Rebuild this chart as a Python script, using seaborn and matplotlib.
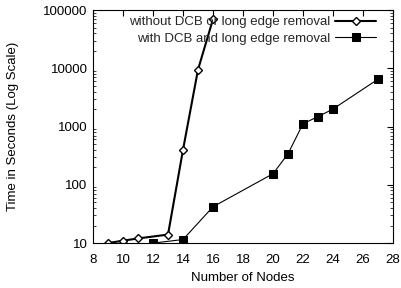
import matplotlib
matplotlib.use("Agg")
import matplotlib.pyplot as plt
import seaborn as sns
import pandas as pd
from matplotlib.ticker import LogLocator, NullFormatter, FixedLocator

sns.set_theme(style="white")
plt.rcParams['font.family'] = ['Liberation Sans', 'DejaVu Sans']

nodes_without = [9, 10, 11, 13, 14, 15, 16]
time_without = [10, 11, 12, 14, 400, 9500, 70000]
nodes_with = [12, 14, 16, 20, 21, 22, 23, 24, 27]
time_with = [10, 11.5, 42, 155, 340, 1120, 1480, 2000, 6500]
label_without = "without DCB or long edge removal"
label_with = "with DCB and long edge removal"
x_ticks = [8, 10, 12, 14, 16, 18, 20, 22, 24, 26, 28]
y_ticks = [10, 100, 1000, 10000, 100000]

df1 = pd.DataFrame({"x": nodes_without, "y": time_without})
df2 = pd.DataFrame({"x": nodes_with, "y": time_with})

FS = 9.5
fig = plt.figure(figsize=(4.01, 2.88), dpi=100)
ax = fig.add_axes([0.232, 0.156, 0.748, 0.809])

sns.lineplot(data=df1, x="x", y="y", ax=ax, color="black", lw=1.5,
             marker="D", markersize=4.2, markerfacecolor="white",
             markeredgecolor="black", markeredgewidth=1.0, label=label_without)
sns.lineplot(data=df2, x="x", y="y", ax=ax, color="black", lw=0.8,
             marker="s", markersize=5.5, markerfacecolor="black",
             markeredgecolor="black", label=label_with)

ax.set_yscale("log")
ax.set_xlim(8, 28)
ax.set_ylim(10, 100000)
ax.xaxis.set_major_locator(FixedLocator(x_ticks))
ax.yaxis.set_major_locator(FixedLocator(y_ticks))
ax.set_yticklabels([str(v) for v in y_ticks])
ax.yaxis.set_minor_locator(LogLocator(base=10, subs=range(2, 10)))
ax.yaxis.set_minor_formatter(NullFormatter())
ax.tick_params(axis="both", which="major", direction="in", length=4, width=0.8,
               top=True, right=True, labelsize=FS, colors="black", pad=4)
ax.tick_params(axis="x", which="major", pad=8)
ax.tick_params(axis="y", which="minor", direction="in", length=2, width=0.6,
               left=True, right=True)
for s in ax.spines.values():
    s.set_color("black")
    s.set_linewidth(0.8)

ax.set_xlabel("Number of Nodes", fontsize=FS, color="black", labelpad=4)
ax.set_ylabel("Time in Seconds (Log Scale)", fontsize=FS, color="black", labelpad=17)

leg = ax.legend(loc="upper right", bbox_to_anchor=(0.948, 0.98),
                markerfirst=False, frameon=False,
                fontsize=FS, handlelength=3.1, borderaxespad=0.0,
                labelspacing=0.32, handletextpad=0.35, borderpad=0.1)
for t in leg.get_texts():
    t.set_ha("right")
leg._legend_box.align = "right"

fig.savefig("out.png", dpi=100, facecolor="white")
